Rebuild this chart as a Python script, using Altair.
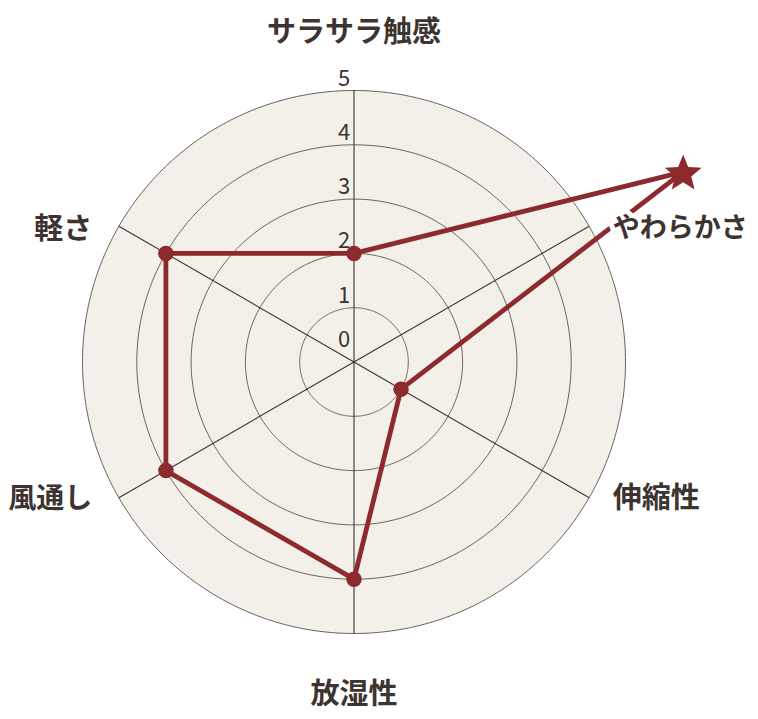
import altair as alt
import numpy as np
import pandas as pd

# ---- data ----
categories = ["サラサラ触感", "やわらかさ", "伸縮性", "放湿性", "風通し", "軽さ"]
values = [2, 7, 1, 4, 4, 4]
ring_values = [1, 2, 3, 4, 5]
tick_labels = ["0", "1", "2", "3", "4", "5"]

R_MAX = max(ring_values)
RED = "#8c2a2e"
TEXT = "#3d3330"
FONT = "Noto Sans CJK JP"

n = len(categories)
angles = np.array([i * 360.0 / n for i in range(n)])  # clockwise from top
rad = np.radians(angles)

# ---- geometry / scales ----
PX = 54.3            # pixels per unit
W, H = 742, 703
CX, CY = 346, 354    # center in svg pixels
xs = alt.Scale(domain=[-CX / PX, (W - CX) / PX], nice=False, zero=False)
ys = alt.Scale(domain=[-(H - CY) / PX, CY / PX], nice=False, zero=False)


def X(f):
    return alt.X(f, type="quantitative", scale=xs, axis=None)


def Y(f):
    return alt.Y(f, type="quantitative", scale=ys, axis=None)


# five-pointed star symbol path (unit box, visually centred)
star_pts = []
for k in range(10):
    a = np.radians(-90 + 36 * k)
    r = 1.0 if k % 2 == 0 else 0.44
    star_pts.append((r * np.cos(a), r * np.sin(a) + 0.095))
STAR_PATH = "M" + "L".join(f"{px:.3f},{py:.3f}" for px, py in star_pts) + "Z"

# background disk
t = np.linspace(0, np.pi, 721)
disk = pd.DataFrame({"x": R_MAX * np.cos(t), "top": R_MAX * np.sin(t)})
disk["bot"] = -disk["top"]
disk_layer = alt.Chart(disk).mark_area(color="#f3f0ea", opacity=1).encode(
    x=X("x"), y=Y("top"), y2=alt.Y2("bot")
)

# ring circles
tt = np.linspace(0, 2 * np.pi, 361)
rings = pd.DataFrame(
    [(r, i, r * np.sin(a), r * np.cos(a)) for r in ring_values for i, a in enumerate(tt)],
    columns=["ring", "i", "x", "y"],
)
ring_layer = alt.Chart(rings).mark_line(color="#6a615c", strokeWidth=1).encode(
    x=X("x"), y=Y("y"), detail="ring:N", order="i:Q"
)

# spokes
spokes = pd.DataFrame({"cat": categories})
spokes["x0"] = 0.0
spokes["y0"] = 0.0
spokes["x1"] = R_MAX * np.sin(rad)
spokes["y1"] = R_MAX * np.cos(rad)
spoke_layer = alt.Chart(spokes).mark_rule(color="#3c3330", strokeWidth=1.1).encode(
    x=X("x0"), y=Y("y0"), x2=alt.X2("x1"), y2=alt.Y2("y1")
)

# data polygon
pts = pd.DataFrame({"cat": categories, "v": values})
pts["x"] = pts["v"] * np.sin(rad)
pts["y"] = pts["v"] * np.cos(rad)
pts["order"] = range(n)
closed = pd.concat([pts, pts.iloc[[0]].assign(order=n)], ignore_index=True)
line_layer = alt.Chart(closed).mark_line(
    color=RED, strokeWidth=4.8, strokeJoin="round", strokeCap="round"
).encode(x=X("x"), y=Y("y"), order="order:Q")

dot_layer = alt.Chart(pts).transform_filter(f"datum.v <= {R_MAX}").mark_point(
    shape="circle", filled=True, size=240, color=RED, opacity=1
).encode(x=X("x"), y=Y("y"))

star_layer = alt.Chart(pts).transform_filter(f"datum.v > {R_MAX}").mark_point(
    shape=STAR_PATH, filled=True, size=1500, color=RED, opacity=1
).encode(x=X("x"), y=Y("y"))

# tick labels
ticks = pd.DataFrame({"label": tick_labels, "v": [float(s) for s in tick_labels]})
ticks["x"] = 0.0
tick_main = alt.Chart(ticks).transform_filter("datum.v > 0").mark_text(
    font=FONT, fontSize=22, color=TEXT, align="center", baseline="middle", dx=-10, dy=-12
).encode(x=X("x"), y=Y("v"), text="label:N")
tick_zero = alt.Chart(ticks).transform_filter("datum.v == 0").mark_text(
    font=FONT, fontSize=22, color=TEXT, align="center", baseline="middle", dx=-10, dy=-22
).encode(x=X("x"), y=Y("v"), text="label:N")

# category labels
side_r = 5.5
end_r = 6.14
rows = []
for cat, ang in zip(categories, angles):
    s = float(np.sin(np.radians(ang)))
    c = float(np.cos(np.radians(ang)))
    if abs(s) < 1e-9:
        grp, rr = ("T" if c > 0 else "B"), end_r
    else:
        grp = ("R" if s > 0 else "L") + ("U" if c > 0 else "D")
        rr = side_r
    rows.append({"cat": cat, "x": rr * s, "y": rr * c, "grp": grp})
lab = pd.DataFrame(rows)

label_layers = []
styles = {
    "T": dict(align="center", baseline="middle", dx=0, dy=4, fontSize=29),
    "B": dict(align="center", baseline="middle", dx=0, dy=0, fontSize=29),
    "RU": dict(align="left", baseline="top", dx=0, dy=3, fontSize=27),
    "RD": dict(align="left", baseline="bottom", dx=0, dy=3, fontSize=29),
    "LU": dict(align="right", baseline="top", dx=-3, dy=3, fontSize=29),
    "LD": dict(align="right", baseline="bottom", dx=-3, dy=3, fontSize=28),
}
for g, st in styles.items():
    base = alt.Chart(lab).transform_filter(f"datum.grp == '{g}'")
    if g == "RU":
        halo = base.mark_text(
            font=FONT, fontWeight="bold", color="white", stroke="white",
            strokeWidth=10, **st
        ).encode(x=X("x"), y=Y("y"), text="cat:N")
        label_layers.append(halo)
    txt = base.mark_text(
        font=FONT, fontWeight="bold", color=TEXT, **st
    ).encode(x=X("x"), y=Y("y"), text="cat:N")
    label_layers.append(txt)

chart = alt.layer(
    disk_layer, ring_layer, spoke_layer, tick_main, tick_zero,
    line_layer, dot_layer, star_layer, *label_layers
).properties(
    width=W, height=H, padding=0,
    autosize=alt.AutoSizeParams(type="none"),
    background="white",
).configure_view(stroke=None)

chart.save("out.html", embed_options={"renderer": "svg", "actions": False})
